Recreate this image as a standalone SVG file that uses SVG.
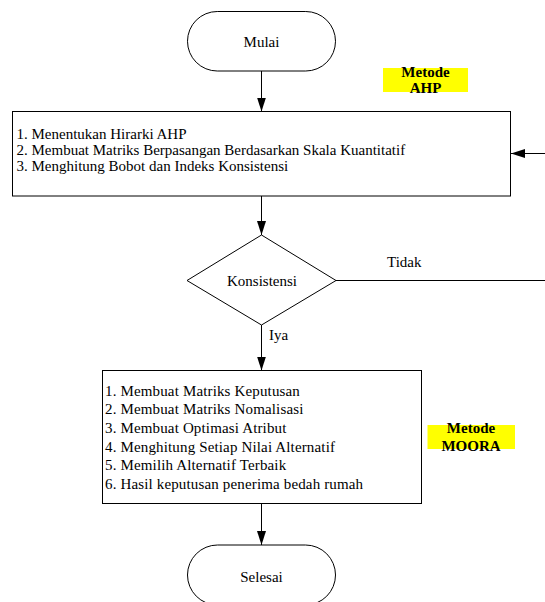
<svg xmlns="http://www.w3.org/2000/svg" width="545" height="602" viewBox="0 0 545 602">
<style>
.shape{fill:#fff;stroke:#000;stroke-width:1}
.line{fill:none;stroke:#000;stroke-width:1}
.t{font-size:15px;fill:#000}
.c{text-anchor:middle}
.b{font-weight:bold}
.hl{fill:#ffff00}
</style>
<defs>
<marker id="arr" markerUnits="userSpaceOnUse" markerWidth="15" markerHeight="10" refX="14" refY="4.5" orient="auto">
<path d="M0,0 L14,4.5 L0,9 z" fill="#000"/>
</marker>
</defs>
<rect width="545" height="602" fill="#fff"/>
<g font-family="Liberation Serif, DejaVu Serif, serif">
<g id="connectors">
<line class="line" x1="261.5" y1="71" x2="261.5" y2="111.5" marker-end="url(#arr)"/>
<line class="line" x1="261.5" y1="196" x2="261.5" y2="235" marker-end="url(#arr)"/>
<line class="line" x1="261.5" y1="325" x2="261.5" y2="370.5" marker-end="url(#arr)"/>
<line class="line" x1="261.5" y1="503.5" x2="261.5" y2="545" marker-end="url(#arr)"/>
<line class="line" x1="336" y1="280.5" x2="545" y2="280.5"/>
<line class="line" x1="545" y1="153.5" x2="511" y2="153.5" marker-end="url(#arr)"/>
<text class="t" x="387" y="266.5">Tidak</text>
<text class="t" x="269" y="339.5">Iya</text>
</g>
<g id="mulai">
<rect class="shape" x="187.5" y="11.5" width="148" height="59.5" rx="29.75"/>
<text class="t c" x="261.5" y="46.5">Mulai</text>
</g>
<g id="label-ahp">
<rect class="hl" x="383" y="68" width="85" height="24"/>
<text class="t c b" x="425.5" y="76.5">Metode</text>
<text class="t c b" x="425.5" y="93">AHP</text>
</g>
<g id="ahp">
<rect class="shape" x="12.5" y="111.5" width="498" height="84.5"/>
<text class="t" x="16.5" y="139">1. Menentukan Hirarki AHP</text>
<text class="t" x="16.5" y="155">2. Membuat Matriks Berpasangan Berdasarkan Skala Kuantitatif</text>
<text class="t" x="16.5" y="171">3. Menghitung Bobot dan Indeks Konsistensi</text>
</g>
<g id="konsistensi">
<polygon class="shape" points="261.5,235 336,280.5 261.5,325 187,280.5"/>
<text class="t c" x="262" y="285.5">Konsistensi</text>
</g>
<g id="moora">
<rect class="shape" x="102.5" y="370.5" width="319" height="133"/>
<text class="t" x="105" y="395.5" letter-spacing="0.15">1. Membuat Matriks Keputusan</text>
<text class="t" x="105" y="414.2" letter-spacing="0.15">2. Membuat Matriks Nomalisasi</text>
<text class="t" x="105" y="432.9" letter-spacing="0.15">3. Membuat Optimasi Atribut</text>
<text class="t" x="105" y="451.6" letter-spacing="0.15">4. Menghitung Setiap Nilai Alternatif</text>
<text class="t" x="105" y="470.3" letter-spacing="0.15">5. Memilih Alternatif Terbaik</text>
<text class="t" x="105" y="489" letter-spacing="0.15">6. Hasil keputusan penerima bedah rumah</text>
</g>
<g id="label-moora">
<rect class="hl" x="427.5" y="425" width="87.5" height="24"/>
<text class="t c b" x="471" y="433">Metode</text>
<text class="t c b" x="471" y="450.5">MOORA</text>
</g>
<g id="selesai">
<rect class="shape" x="187.5" y="545" width="148" height="60" rx="30"/>
<text class="t c" x="261.5" y="582">Selesai</text>
</g>
</g>
</svg>
